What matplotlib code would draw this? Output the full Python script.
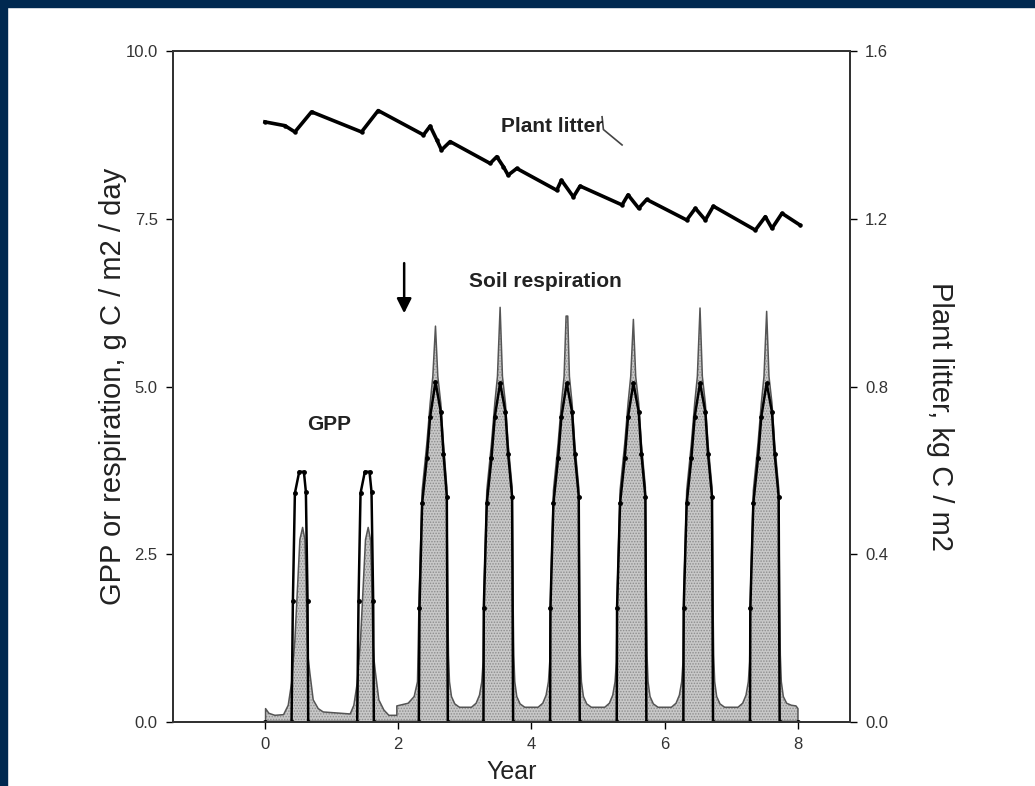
import matplotlib
matplotlib.use("Agg")
import matplotlib.pyplot as plt
from matplotlib.patches import Rectangle

# GPP (g C / m2 / day), black line
gpp_x = [0.00, 0.40, 0.42, 0.45, 0.515, 0.585, 0.615, 0.64, 0.65,
         1.385, 1.405, 1.435, 1.50, 1.57, 1.60, 1.625, 1.635,
         2.31, 2.32, 2.36, 2.43, 2.48, 2.56, 2.64, 2.68, 2.73, 2.745,
         3.28, 3.285, 3.33, 3.40, 3.45, 3.53, 3.61, 3.65, 3.71, 3.725,
         4.28, 4.285, 4.33, 4.40, 4.45, 4.53, 4.61, 4.65, 4.71, 4.725,
         5.28, 5.285, 5.33, 5.40, 5.45, 5.53, 5.61, 5.65, 5.71, 5.725,
         6.28, 6.285, 6.33, 6.40, 6.45, 6.53, 6.61, 6.65, 6.71, 6.725,
         7.28, 7.285, 7.33, 7.40, 7.45, 7.53, 7.61, 7.65, 7.71, 7.725, 8.00]
gpp_y = [0.00, 0.00, 1.80, 3.41, 3.73, 3.73, 3.43, 1.80, 0.00,
         0.00, 1.80, 3.41, 3.73, 3.73, 3.43, 1.80, 0.00,
         0.00, 1.70, 3.26, 3.93, 4.55, 5.07, 4.62, 4.00, 3.36, 0.00,
         0.00, 1.70, 3.26, 3.93, 4.55, 5.05, 4.62, 4.00, 3.36, 0.00,
         0.00, 1.70, 3.26, 3.93, 4.55, 5.05, 4.62, 4.00, 3.36, 0.00,
         0.00, 1.70, 3.26, 3.93, 4.55, 5.05, 4.62, 4.00, 3.36, 0.00,
         0.00, 1.70, 3.26, 3.93, 4.55, 5.05, 4.62, 4.00, 3.36, 0.00,
         0.00, 1.70, 3.26, 3.93, 4.55, 5.05, 4.62, 4.00, 3.36, 0.00, 0.00]

# soil respiration (g C / m2 / day), grey filled curve
resp_x = [0.01, 0.01, 0.06, 0.15, 0.28, 0.35, 0.40, 0.45, 0.50, 0.525, 0.566, 0.60, 0.615, 0.635, 0.65, 0.675, 0.725, 0.80, 0.875,
          1.28, 1.335, 1.385, 1.435, 1.485, 1.51, 1.55, 1.585, 1.60, 1.62, 1.635, 1.66, 1.71, 1.785, 1.86, 1.98, 1.98,
          2.15, 2.24, 2.29, 2.315, 2.36, 2.43, 2.48, 2.52, 2.56, 2.595, 2.64, 2.68, 2.73, 2.745, 2.755, 2.77, 2.80, 2.85, 2.92,
          3.10, 3.17, 3.22, 3.255, 3.275, 3.29, 3.33, 3.40, 3.45, 3.49, 3.53, 3.565, 3.61, 3.65, 3.71, 3.725, 3.735, 3.75, 3.78, 3.83, 3.90,
          4.10, 4.17, 4.22, 4.255, 4.275, 4.29, 4.33, 4.40, 4.45, 4.49, 4.52, 4.545, 4.57, 4.61, 4.65, 4.71, 4.725, 4.735, 4.75, 4.78, 4.83, 4.90,
          5.10, 5.17, 5.22, 5.255, 5.275, 5.29, 5.33, 5.40, 5.45, 5.49, 5.53, 5.565, 5.61, 5.65, 5.71, 5.725, 5.735, 5.75, 5.78, 5.83, 5.90,
          6.10, 6.17, 6.22, 6.255, 6.275, 6.29, 6.33, 6.40, 6.45, 6.49, 6.53, 6.565, 6.61, 6.65, 6.71, 6.725, 6.735, 6.75, 6.78, 6.83, 6.90,
          7.10, 7.17, 7.22, 7.255, 7.275, 7.29, 7.33, 7.40, 7.45, 7.49, 7.53, 7.565, 7.61, 7.65, 7.71, 7.725, 7.735, 7.75, 7.78, 7.83, 7.90,
          7.97, 8.00, 8.00]
resp_y = [0.00, 0.20, 0.13, 0.10, 0.11, 0.25, 0.58, 1.22, 2.22, 2.72, 2.90, 2.72, 2.22, 1.22, 0.95, 0.73, 0.33, 0.20, 0.15,
          0.12, 0.25, 0.58, 1.22, 2.22, 2.72, 2.90, 2.72, 2.22, 1.22, 0.95, 0.73, 0.33, 0.18, 0.10, 0.10, 0.24,
          0.28, 0.38, 0.60, 1.90, 3.45, 4.15, 4.75, 5.15, 5.90, 5.15, 4.75, 4.15, 3.50, 1.80, 1.00, 0.60, 0.38, 0.27, 0.22,
          0.22, 0.28, 0.40, 0.60, 0.90, 2.00, 3.45, 4.15, 4.75, 5.15, 6.18, 5.15, 4.75, 4.15, 3.50, 1.80, 1.00, 0.60, 0.38, 0.27, 0.22,
          0.22, 0.28, 0.40, 0.60, 0.90, 2.00, 3.45, 4.15, 4.75, 5.15, 6.05, 6.05, 5.15, 4.75, 4.15, 3.50, 1.80, 1.00, 0.60, 0.38, 0.27, 0.22,
          0.22, 0.28, 0.40, 0.60, 0.90, 2.00, 3.45, 4.15, 4.75, 5.15, 6.00, 5.15, 4.75, 4.15, 3.50, 1.80, 1.00, 0.60, 0.38, 0.27, 0.22,
          0.22, 0.28, 0.40, 0.60, 0.90, 2.00, 3.45, 4.15, 4.75, 5.15, 6.17, 5.15, 4.75, 4.15, 3.50, 1.80, 1.00, 0.60, 0.38, 0.27, 0.22,
          0.22, 0.28, 0.40, 0.60, 0.90, 2.00, 3.45, 4.15, 4.75, 5.15, 6.12, 5.15, 4.75, 4.15, 3.50, 1.80, 1.00, 0.60, 0.38, 0.28, 0.25,
          0.24, 0.20, 0.00]

# plant litter (kg C / m2), right axis
litter_x = [0.00, 0.30, 0.45, 0.70, 1.45, 1.70, 2.38, 2.48, 2.58, 2.65, 2.78, 3.38, 3.48, 3.58, 3.65, 3.78,
            4.38, 4.45, 4.63, 4.73, 5.36, 5.45, 5.61, 5.73, 6.33, 6.46, 6.61, 6.73, 7.36, 7.51, 7.61, 7.76, 8.03]
litter_y = [1.431, 1.422, 1.407, 1.455, 1.407, 1.458, 1.400, 1.421, 1.388, 1.364, 1.384, 1.332, 1.348, 1.324, 1.304, 1.320,
            1.268, 1.292, 1.252, 1.278, 1.233, 1.257, 1.225, 1.246, 1.197, 1.225, 1.197, 1.230, 1.173, 1.205, 1.177, 1.213, 1.185]

left_ticks = [0.0, 2.5, 5.0, 7.5, 10.0]
right_ticks = [0.0, 0.4, 0.8, 1.2, 1.6]
year_ticks = [0, 2, 4, 6, 8]

plt.rcParams["font.family"] = ["Liberation Sans", "DejaVu Sans"]
plt.rcParams["hatch.linewidth"] = 0.7

fig = plt.figure(figsize=(10.35, 7.86), dpi=100)
fig.patches.append(Rectangle((0, 1 - 7 / 786), 1, 7 / 786, transform=fig.transFigure, color="#002850", zorder=10))
fig.patches.append(Rectangle((0, 0), 7 / 1035, 1, transform=fig.transFigure, color="#002850", zorder=10))

ax = fig.add_axes([0.1671, 0.0814, 0.6541, 0.8537])
ax.fill_between(resp_x, 0, resp_y, facecolor="#c8c8c8", hatch="......", edgecolor="#8c8c8c", linewidth=0)
ax.plot(resp_x, resp_y, color="#555555", lw=1.1)
ax.plot(gpp_x, gpp_y, color="black", lw=1.8, marker="o", ms=2.5)
ax.set_xlim(-1.38, 8.78); ax.set_ylim(0, 10)
ax.set_xticks(year_ticks); ax.set_yticks(left_ticks)
ax.set_yticklabels([f"{v:.1f}" for v in left_ticks])
ax.set_xlabel("Year", fontsize=18, color="#222222")
ax.xaxis.set_label_coords(0.5, -0.056)
ax.set_ylabel("GPP or respiration, g C / m2 / day", fontsize=21, color="#222222")
ax.yaxis.set_label_coords(-0.068, 0.5)

ax2 = ax.twinx()
ax2.plot(litter_x, litter_y, color="black", lw=2.6, marker="o", ms=2.2)
ax2.set_ylim(0, 1.6); ax2.set_yticks(right_ticks)
ax2.set_yticklabels([f"{v:.1f}" for v in right_ticks])
ax2.set_ylabel("Plant litter, kg C / m2", fontsize=21, color="#222222", rotation=-90, va="center")
ax2.yaxis.set_label_coords(1.133, 0.455)

for a in (ax, ax2):
    a.tick_params(direction="out", length=5, width=1, labelsize=12, labelcolor="#333333", pad=6)
    for s in a.spines.values():
        s.set_linewidth(1.4); s.set_color("#333333")

ax.text(4.31, 8.88, "Plant litter", fontsize=15, fontweight="bold", ha="center", va="center", color="#222222")
ax.plot([5.06, 5.08, 5.36], [9.02, 8.83, 8.6], color="#444444", lw=1.2)
ax.text(4.21, 6.57, "Soil respiration", fontsize=15, fontweight="bold", ha="center", va="center", color="#222222")
ax.text(0.97, 4.44, "GPP", fontsize=15, fontweight="bold", ha="center", va="center", color="#222222")
ax.annotate("", xy=(2.09, 6.05), xytext=(2.09, 6.88),
            arrowprops=dict(arrowstyle="-|>", color="black", lw=1.8, mutation_scale=22))

fig.savefig("out.png", dpi=100)
